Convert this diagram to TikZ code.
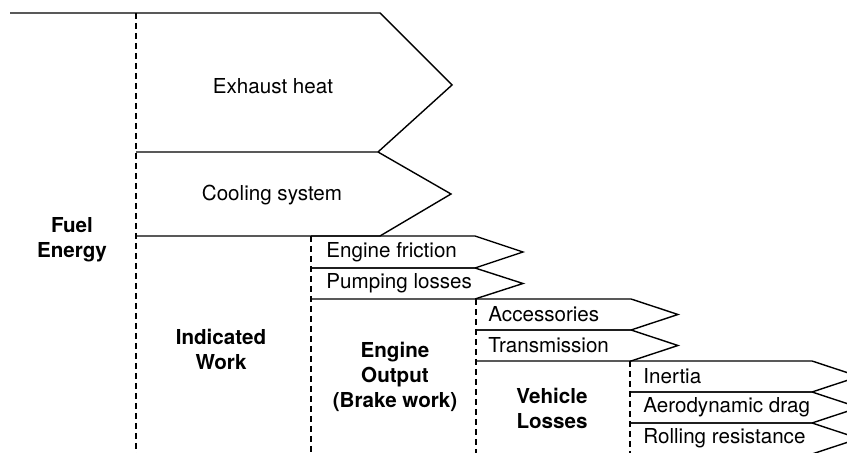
\documentclass[tikz,border=0pt]{standalone}
\usepackage{fontspec}
\setmainfont{TeX Gyre Heros}
\usetikzlibrary{positioning}

\begin{document}
\begin{tikzpicture}[
    x=0.5pt, y=-0.5pt,
    font=\fontsize{10.3}{12.5}\selectfont,
    flow/.style={line width=0.7pt, line join=miter},
    stage/.style={dash pattern=on 3pt off 2pt, line width=0.6pt},
    heat/.style={inner sep=0pt},
    loss/.style={anchor=west, inner sep=0pt},
    total/.style={font=\fontsize{10.3}{12.5}\selectfont\bfseries, align=center, inner sep=0pt},
  ]

  \clip (0,0) rectangle (847,453);

  % --- stage borders ---
  \foreach \x/\y in {136/13, 311/236, 476/299, 630/361} {
    \draw[stage] (\x,\y) -- (\x,453);
  }

  % --- heat losses ---
  \draw[flow] (10,13) -- (380,13) -- (452,85) -- (378,152) -- (136,152);
  \draw[flow] (378,152) -- (451,194) -- (380,236) -- (136,236);

  % --- engine losses ---
  \foreach \yt/\yb in {236/268, 268/299} {
    \draw[flow] (311,\yt) -- (475,\yt) -- (523,{(\yt+\yb)/2}) -- (475,\yb) -- (311,\yb);
  }

  % --- driveline losses ---
  \foreach \yt/\yb in {299/330, 330/361} {
    \draw[flow] (476,\yt) -- (631,\yt) -- (678,{(\yt+\yb)/2}) -- (631,\yb) -- (476,\yb);
  }

  % --- road losses ---
  \foreach \yt/\yb in {361/392, 392/423, 423/454} {
    \draw[flow] (630,\yt) -- (812,\yt) -- (859,{(\yt+\yb)/2}) -- (812,\yb) -- (630,\yb);
  }

  % --- labels ---
  \node[total] (fuel) at (72,240) {Fuel\\Energy};
  \node[heat] (exhaust) at (273,86) {Exhaust heat};
  \node[heat] (cooling) at (272,195) {Cooling system};
  \node[total] (indicated) at (221,349) {Indicated\\Work};
  \node[loss] (friction) at (326,252) {Engine friction};
  \node[loss] (pumping) at (326,283) {Pumping losses};
  \node[total] (output) at (395,377) {Engine\\Output\\(Brake work)};
  \node[loss] (accessories) at (488,314) {Accessories};
  \node[loss] (transmission) at (488,345) {Transmission};
  \node[total] (vehicle) at (552,408) {Vehicle\\Losses};
  \node[loss] (inertia) at (643,376) {Inertia};
  \node[loss] (aero) at (643,407) {Aerodynamic drag};
  \node[loss] (rolling) at (643,438) {Rolling resistance};

\end{tikzpicture}
\end{document}
